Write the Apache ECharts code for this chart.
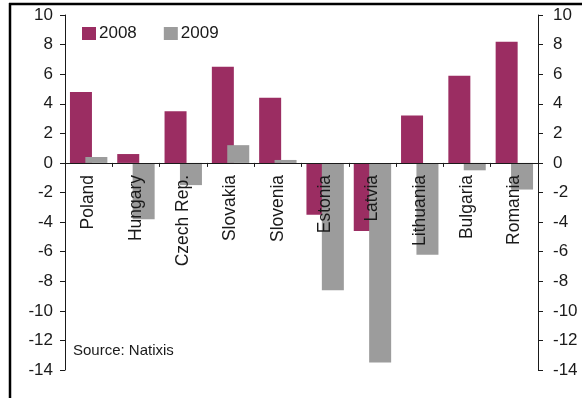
<!DOCTYPE html>
<html>
<head>
<meta charset="utf-8">
<script src="https://cdn.jsdelivr.net/npm/echarts@6/dist/echarts.min.js"></script>
<style>
  html, body { margin: 0; padding: 0; background: #fff; }
  #chart { width: 582px; height: 398px; }
</style>
</head>
<body>
<div id="chart"></div>
<script>
// Real GDP growth, Central & Eastern Europe (%)
const countries = ['Poland', 'Hungary', 'Czech Rep.', 'Slovakia', 'Slovenia',
                   'Estonia', 'Latvia', 'Lithuania', 'Bulgaria', 'Romania'];
const growth2008 = [4.8, 0.6, 3.5, 6.5, 4.4, -3.5, -4.6, 3.2, 5.9, 8.2];
const growth2009 = [0.4, -3.8, -1.5, 1.2, 0.2, -8.6, -13.5, -6.2, -0.5, -1.8];
const yTicks = { min: -14, max: 10, step: 2 };
const sourceNote = 'Source: Natixis';

const FONT = '"Liberation Sans", Arial, sans-serif';
const INK = '#1a1a1a';
const PLUM = '#9b2d62';
const GREY = '#9c9c9c';

// plot area
const W = 582, H = 398;
const GRID = { left: 65, right: 44, top: 15, bottom: 28 };
const plotH = H - GRID.top - GRID.bottom;
// lift the category axis from the bottom edge up to the zero line
const zeroLift = plotH * (0 - yTicks.min) / (yTicks.max - yTicks.min);

const valueAxis = (pos) => ({
  type: 'value',
  position: pos,
  min: yTicks.min,
  max: yTicks.max,
  interval: yTicks.step,
  splitLine: { show: false },
  axisLine: { show: true, onZero: false, lineStyle: { color: INK, width: 1 } },
  axisTick: { show: true, length: 5, lineStyle: { color: INK } },
  axisLabel: { color: INK, fontFamily: FONT, fontSize: 17, margin: pos === 'left' ? 12 : 15 }
});

const chart = echarts.init(document.getElementById('chart'), null, { renderer: 'canvas' });
chart.setOption({
  animation: false,
  grid: Object.assign({ containLabel: false, outerBoundsMode: 'none' }, GRID),
  legend: {
    left: 77, top: 20,
    itemWidth: 14, itemHeight: 13, itemGap: 27,
    icon: 'rect',
    textStyle: { color: INK, fontFamily: FONT, fontSize: 17, padding: [0, 0, 0, -2] },
    data: ['2008', '2009']
  },
  xAxis: {
    type: 'category',
    position: 'bottom',
    offset: -zeroLift,
    z: 5,
    data: countries,
    axisLine: { onZero: false, lineStyle: { color: INK, width: 1 } },
    axisTick: { show: true, length: 4, lineStyle: { color: INK } },
    axisLabel: { rotate: 90, margin: 12, color: INK, fontFamily: FONT, fontSize: 17.5, interval: 0 }
  },
  yAxis: [valueAxis('left'), valueAxis('right')],
  series: [
    { name: '2008', type: 'bar', data: growth2008, barWidth: 22, barGap: '-30%',
      itemStyle: { color: PLUM } },
    { name: '2009', type: 'bar', data: growth2009, barWidth: 22,
      itemStyle: { color: GREY } }
  ],
  graphic: [
    { type: 'text', left: 73, top: 343,
      style: { text: sourceNote, fill: INK, font: '15px ' + FONT } },
    { type: 'line', shape: { x1: 10, y1: 3, x2: 10, y2: H },
      style: { stroke: '#000', lineWidth: 2.5 } },
    { type: 'line', shape: { x1: 9, y1: 4, x2: W, y2: 4 },
      style: { stroke: '#000', lineWidth: 2.5 } }
  ]
});
</script>
</body>
</html>
